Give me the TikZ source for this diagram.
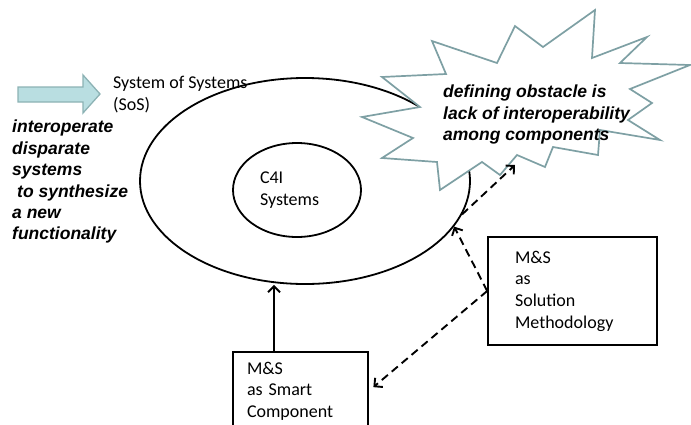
\documentclass[tikz,border=0pt]{standalone}
\usepackage{fontspec}
\setmainfont{Carlito}
\newfontfamily\arialfont{Liberation Sans}
\usetikzlibrary{arrows.meta,shapes.geometric}
\definecolor{burstline}{RGB}{126,160,164}
\definecolor{arrowfill}{RGB}{185,222,225}
\definecolor{arrowline}{RGB}{140,178,180}
\tikzset{
  plain/.style={font=\fontsize{18}{21.7}\selectfont, align=left, inner sep=0},
  claim/.style={font=\arialfont\bfseries\itshape\fontsize{17.5}{21.4}\selectfont, align=left, inner sep=0},
  ring/.style={draw, line width=1.8pt, ellipse, inner sep=0},
  msbox/.style={draw, line width=1.6pt, rectangle, plain},
  linkarrow/.style={line width=1.9pt, -{Straight Barb[length=6pt,width=12pt]}},
  dasharrow/.style={linkarrow, dash pattern=on 8pt off 5pt},
}

\begin{document}
\begin{tikzpicture}[x=1pt,y=-1pt]
  \useasboundingbox (0,0) rectangle (691,424);
  \node[ring, minimum width=330pt, minimum height=206pt] (sos) at(305,181){};
  \draw[burstline, fill=white, line width=1.7pt, line join=miter]
    (382,77) -- (446,74) -- (432,41) -- (497,63) -- (515,26) -- (543,47) -- (595,10)
    -- (592,58) -- (647,37) -- (620,63) -- (690,65) -- (630,89) -- (652,103) -- (628,120)
    -- (660,140) -- (600,130) -- (598,155) -- (553,147) -- (545,167) -- (517,155)
    -- (500,175) -- (482,162) -- (440,190) -- (437,162) -- (382,158) -- (413,138)
    -- (362,117) -- (420,107) -- cycle;
  \node[claim, anchor=north west] (obstacle) at(443,85){defining obstacle is\\lack of interoperability\\among components};
  \node[ring, plain, minimum width=128pt, minimum height=94pt, text width=74pt] (c4i) at(297,190){C4I\\Systems};
  \draw[fill=arrowfill, draw=arrowline, line width=1.3pt]
    (18,87) -- (83,87) -- (83,75) -- (100,94) -- (83,113) -- (83,102) -- (18,102) -- cycle;
  \node[plain, anchor=north west] (soslabel) at(113,76){System of Systems\\(SoS)};
  \node[claim, anchor=north west] (purpose) at(12,120){interoperate\\disparate\\systems\\\hspace*{5pt}to synthesize\\a new\\functionality};
  \node[msbox, minimum width=169pt, minimum height=108pt, text width=115pt] (solution) at(572.5,291){M\&S\\as\\Solution\\Methodology};
  \node[msbox, minimum width=135pt, minimum height=78pt, text width=107pt] (smart) at(300.5,391){M\&S\\as Smart\\Component};
  \coordinate (smarttop) at([xshift=-26.5pt]smart.north);
  \coordinate (burstgap) at(515,165);
  \draw[linkarrow] (smarttop) -- (smarttop |- sos.south);
  \draw[dasharrow] (solution.west) -- (sos.-17);
  \draw[dasharrow, shorten >=6pt] (solution.west) -- (smart.east);
  \draw[dasharrow] (sos.-12) -- (burstgap);
\end{tikzpicture}
\end{document}
